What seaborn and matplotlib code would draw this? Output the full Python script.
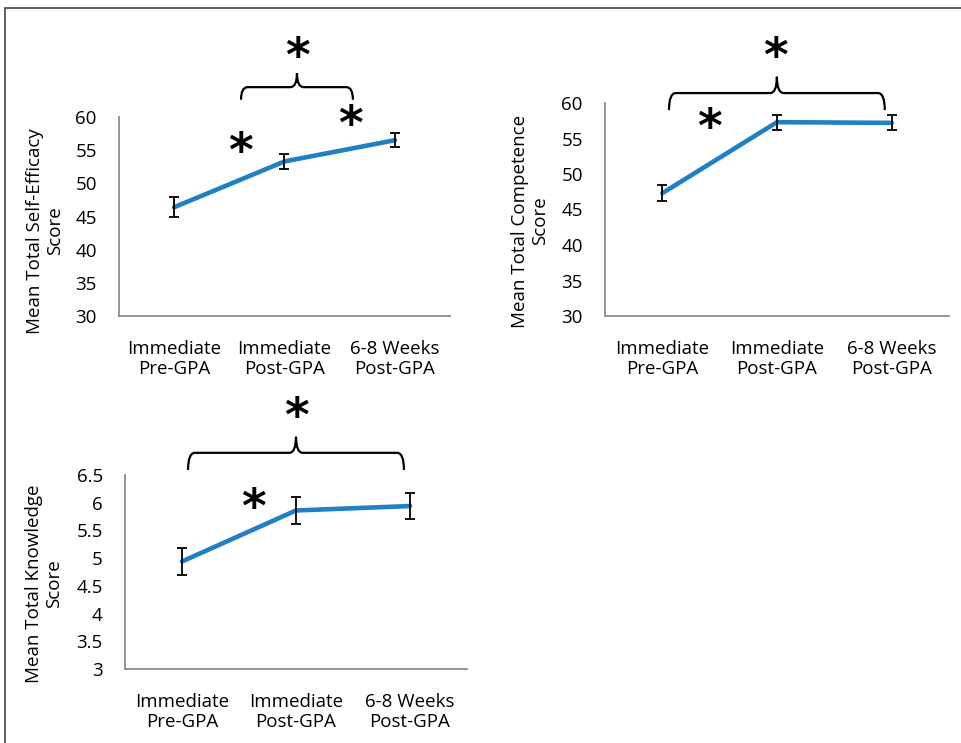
import matplotlib
matplotlib.use("Agg")
from matplotlib import pyplot as plt
from matplotlib.path import Path
from matplotlib.patches import PathPatch, Rectangle
import pandas as pd
import seaborn as sns

# Data
timepoints = ["Immediate\nPre-GPA", "Immediate\nPost-GPA", "6-8 Weeks\nPost-GPA"]

efficacy_mean = [46.4, 53.3, 56.5]
efficacy_se = [1.55, 1.1, 1.05]

competence_mean = [47.3, 57.3, 57.2]
competence_se = [1.1, 1.05, 1.05]

knowledge_mean = [4.94, 5.86, 5.94]
knowledge_se = [0.25, 0.24, 0.235]

LINE_COLOR = "#1f80c4"
AXIS_COLOR = "#8c8c8c"
W, H = 962, 743


def draw_brace(ax, x0, x1, y_end, y_bar, y_tip, r=0.06):
    xm = (x0 + x1) / 2
    verts = [
        (x0, y_end), (x0, y_bar), (x0 + r, y_bar),
        (xm - r, y_bar),
        (xm, y_bar), (xm, y_tip),
        (xm, y_bar), (xm + r, y_bar),
        (x1 - r, y_bar),
        (x1, y_bar), (x1, y_end),
    ]
    codes = [
        Path.MOVETO, Path.CURVE3, Path.CURVE3,
        Path.LINETO,
        Path.CURVE3, Path.CURVE3,
        Path.CURVE3, Path.CURVE3,
        Path.LINETO,
        Path.CURVE3, Path.CURVE3,
    ]
    ax.add_patch(PathPatch(Path(verts, codes), fill=False, lw=1.6, color="black", clip_on=False))


def star(ax, x, y):
    ax.text(x, y, "*", fontsize=34, fontweight="bold", ha="center", va="center",
            family="DejaVu Sans", color="black", clip_on=False)


def panel(fig, rect, means, ses, ylim, yticks, ticklabels, ylabel, label_xy):
    ax = fig.add_axes(rect)
    df = pd.DataFrame({"pos": [0, 1, 2], "mean": means, "se": ses})
    sns.lineplot(data=df, x="pos", y="mean", ax=ax, color=LINE_COLOR, lw=3.3, zorder=2)
    ax.errorbar(df["pos"], df["mean"], yerr=df["se"], fmt="none", ecolor="black",
                elinewidth=1.3, capsize=3.8, capthick=1.3, zorder=3)
    ax.set_xlim(-0.5, 2.5)
    ax.set_ylim(*ylim)
    ax.set_yticks(yticks)
    ax.set_yticklabels(ticklabels)
    ax.set_xticks([0, 1, 2])
    ax.set_xticklabels(timepoints, linespacing=1.15)
    ax.set_xticks([-0.5, 0.5, 1.5, 2.5], minor=True)
    ax.tick_params(axis="x", which="major", length=0, pad=17, labelsize=13.5, labelcolor="black")
    ax.tick_params(axis="x", which="minor", length=5, width=1.2, color=AXIS_COLOR, direction="out")
    ax.tick_params(axis="y", length=5, width=1.2, color=AXIS_COLOR, pad=11, labelsize=13.5,
                   direction="out", labelcolor="black")
    ax.set_xlabel("")
    ax.set_ylabel("")
    for s in ["top", "right"]:
        ax.spines[s].set_visible(False)
    for s in ["left", "bottom"]:
        ax.spines[s].set_color(AXIS_COLOR)
        ax.spines[s].set_linewidth(1.3)
    fig.text(label_xy[0] / W, 1 - label_xy[1] / H, ylabel, rotation=90, ha="center",
             va="center", multialignment="center", fontsize=13.5, linespacing=1.15,
             color="black")
    return ax


sns.set_style("white")
plt.rcParams["font.family"] = ["Open Sans", "DejaVu Sans"]
plt.rcParams["text.color"] = "black"

fig = plt.figure(figsize=(9.62, 7.43), dpi=100)

# Outer frame
fig.add_artist(Rectangle((5 / W, -0.05), 1.2, 1 - 8 / H + 0.05, transform=fig.transFigure,
                         fill=False, lw=1.2, edgecolor="#444444"))

ax1 = panel(fig, [119 / W, 1 - 316 / H, 331 / W, 199 / H], efficacy_mean, efficacy_se,
            (30, 60), range(30, 61, 5), [str(v) for v in range(30, 61, 5)],
            "Mean Total Self-Efficacy\nScore", (45, 231))
draw_brace(ax1, 0.606, 1.62, 62.6, 64.5, 66.6)
star(ax1, 1.12, 68.8)
star(ax1, 0.597, 54.5)
star(ax1, 1.60, 58.5)

ax2 = panel(fig, [605 / W, 1 - 316 / H, 344 / W, 213 / H], competence_mean, competence_se,
            (30, 60), range(30, 61, 5), [str(v) for v in range(30, 61, 5)],
            "Mean Total Competence\nScore", (530, 221))
draw_brace(ax2, 0.058, 1.94, 59.0, 61.4, 63.7)
star(ax2, 0.99, 66.3)
star(ax2, 0.407, 56.2)

kt = [3, 3.5, 4, 4.5, 5, 5.5, 6, 6.5]
ax3 = panel(fig, [125 / W, 1 - 669 / H, 342 / W, 194 / H], knowledge_mean, knowledge_se,
            (3, 6.5), kt, [f"{v:g}" for v in kt],
            "Mean Total Knowledge\nScore", (44, 584))
draw_brace(ax3, 0.053, 1.947, 6.59, 6.90, 7.19)
star(ax3, 1.0, 7.52)
star(ax3, 0.623, 5.87)

fig.savefig("out.png", dpi=100)
